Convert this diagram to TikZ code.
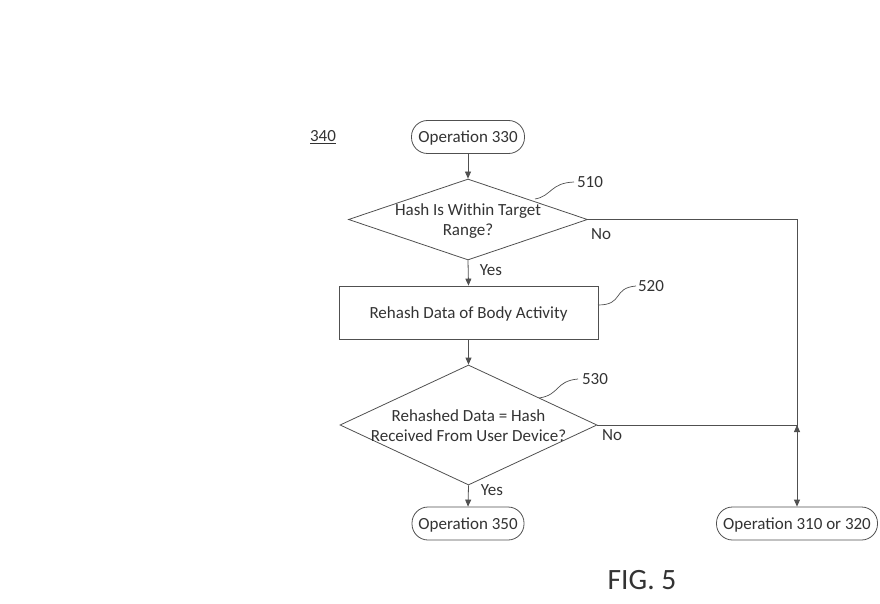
\documentclass[tikz,border=0pt]{standalone}
\usepackage{fontspec}
\setmainfont{Carlito}
\usetikzlibrary{shapes.geometric,arrows.meta}
\definecolor{ln}{HTML}{505050}
\definecolor{tx}{HTML}{333333}
\tikzset{
  base/.style={draw=ln,line width=0.8pt,text=tx,inner sep=0pt},
  pill/.style={base,rectangle,rounded corners=16pt,minimum height=33pt,text depth=0pt},
  dia/.style={base,diamond},
  box/.style={base,rectangle},
  txt/.style={text=tx,align=center,font=\fontsize{17}{20}\selectfont},
  lbl/.style={text=tx,font=\fontsize{17}{20}\selectfont,inner sep=0pt},
  arr/.style={draw=ln,line width=0.8pt,-{Triangle[length=7pt,width=6pt]}},
  con/.style={draw=ln,line width=0.8pt},
  lead/.style={draw=ln,line width=0.7pt},
}
\begin{document}
\begin{tikzpicture}[x=1pt,y=-1pt]
\useasboundingbox (0,0) rectangle (880,604);
\node[pill,minimum width=113pt,txt] (op330) at (468,137) {Operation 330};
\node[dia,minimum width=239pt,minimum height=81pt] (d1) at (468,219.5) {};
\node[txt] (t1) at (468,221) {Hash Is Within Target\\Range?};
\node[box,minimum width=259pt,minimum height=53pt,txt,text depth=0pt] (r520) at (468.5,312.5) {Rehash Data of Body Activity};
\node[dia,minimum width=257pt,minimum height=120pt] (d2) at (468.5,425) {};
\node[txt] (t2) at (468.5,426) {Rehashed Data = Hash\\Received From User Device?};
\node[pill,minimum width=112pt,txt] (op350) at (468,523.5) {Operation 350};
\node[pill,minimum width=161pt,txt] (op310) at (797,523.5) {Operation 310 or 320};
\node[lbl] (l340) at (323,137) {\underline{340}};
\node[lbl] (l510) at (590,182) {510};
\node[lbl] (l520) at (651,286) {520};
\node[lbl] (l530) at (595,379) {530};
\node[lbl] (no1) at (601,234) {No};
\node[lbl] (no2) at (612,435) {No};
\node[lbl] (yes1) at (491,270) {Yes};
\node[lbl] (yes2) at (492,490) {Yes};
\node[text=tx,font=\fontsize{29.5}{32}\selectfont,inner sep=0pt] (fig) at (642,580) {FIG. 5};
\coordinate (j) at (797,425);
\coordinate (jb) at (797,435);
\coordinate (a510) at (535,199);
\coordinate (b510) at (574,182);
\coordinate (a520) at (598,305);
\coordinate (b520) at (636,286);
\coordinate (a530) at (539,398);
\coordinate (b530) at (578,379);
\draw[arr] (op330) -- (d1.north);
\draw[arr] (d1.east) -| (op310.north);
\draw[arr] (d1.south) -- (r520.north);
\draw[arr] (r520.south) -- (d2.north);
\draw[arr] (d2.south) -- (op350.north);
\draw[con] (d2.east) -- (j);
\draw[arr] (jb) -- (j);
\draw[lead] (a510) .. controls (552,196) and (550,183) .. (b510);
\draw[lead] (a520) .. controls (624,305) and (612,288) .. (b520);
\draw[lead] (a530) .. controls (560,395) and (555,381) .. (b530);
\end{tikzpicture}
\end{document}
